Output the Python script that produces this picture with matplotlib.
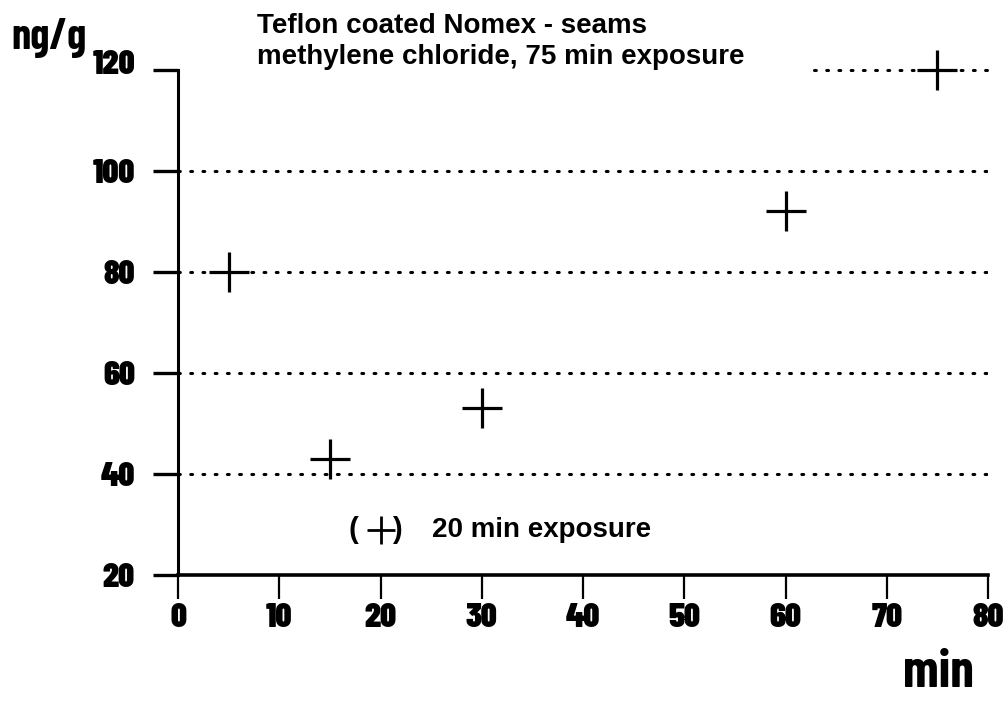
import matplotlib
matplotlib.use("Agg")
import matplotlib.pyplot as plt
import matplotlib.transforms as mtransforms

# ============================================================
# Data
# ============================================================
exposure_min = [5, 15, 30, 60, 75]
conc_ng_g = [80, 43, 53, 92, 120]

# the bracketed point, 20 min exposure
short_min = [20]
short_conc = [29]

x_ticks = [0, 10, 20, 30, 40, 50, 60, 70, 80]
y_ticks = [20, 40, 60, 80, 100, 120]
grid_levels = [40, 60, 80, 100]

title_lines = ["Teflon coated Nomex - seams", "methylene chloride, 75 min exposure"]

# ============================================================
# Figure
# ============================================================
plt.rcParams["font.family"] = ["Liberation Sans", "DejaVu Sans"]
tick_font = dict(family=["Barlow Condensed", "DejaVu Sans"], weight="black", size=25)
label_family = ["Barlow Condensed", "DejaVu Sans"]
dot_style = (0, (0.6, 3.4))

fig = plt.figure(figsize=(10.07, 7.08), dpi=100)
ax = fig.add_axes([178 / 1007, 133 / 708, 810 / 1007, 505 / 708])

ax.set_xlim(0, 80)
ax.set_ylim(20, 120)

# dotted guide lines
for lv in grid_levels:
    ax.axhline(lv, color="black", lw=2.2, linestyle=dot_style,
               dash_capstyle="round", zorder=1)
ax.hlines(120, 62.8, 80, color="black", lw=2.2, linestyle=dot_style,
          capstyle="round", zorder=1, clip_on=False)

ax.plot(exposure_min, conc_ng_g, linestyle="none", marker="+", markersize=29,
        markeredgewidth=2.3, color="black", clip_on=False, zorder=3)
ax.plot(short_min, short_conc, linestyle="none", marker="+", markersize=20,
        markeredgewidth=2.0, color="black", clip_on=False, zorder=3)

ax.text(17.3, 29, "(", fontsize=21, fontweight="bold", ha="center", va="center")
ax.text(21.6, 29, ")", fontsize=21, fontweight="bold", ha="center", va="center")
ax.text(25.1, 29, "20 min exposure", fontsize=20, fontweight="bold",
        ha="left", va="center")

# spines / ticks
for side in ["top", "right"]:
    ax.spines[side].set_visible(False)
ax.spines["left"].set_linewidth(2.2)
ax.spines["bottom"].set_linewidth(2.6)

ax.set_xticks(x_ticks)
ax.set_yticks(y_ticks)
ax.tick_params(axis="y", direction="out", length=18, width=2.4, pad=13)
ax.tick_params(axis="x", direction="out", length=17, width=1.6, pad=3)
ax.set_xticklabels([str(v) for v in x_ticks], **tick_font)
ax.set_yticklabels([str(v) for v in y_ticks], **tick_font)

# the 120 label sits a little above its tick in the original
top_lab = ax.get_yticklabels()[-1]
top_lab.set_transform(top_lab.get_transform() +
                      mtransforms.ScaledTranslation(0, 8 / 100, fig.dpi_scale_trans))

# titles and axis words
fig.text(257 / 1007, 1 - 26 / 708, title_lines[0], fontsize=20, fontweight="bold",
         ha="left", va="center")
fig.text(257 / 1007, 1 - 57 / 708, title_lines[1], fontsize=20, fontweight="bold",
         ha="left", va="center")
fig.text(11 / 1007, 1 - 38 / 708, "ng/g", fontsize=31, fontweight="bold",
         family=label_family, ha="left", va="center")
fig.text(938 / 1007, 1 - 673 / 708, "min", fontsize=38, fontweight="bold",
         family=label_family, ha="center", va="center")

plt.savefig("out.png", dpi=100)
plt.close()
